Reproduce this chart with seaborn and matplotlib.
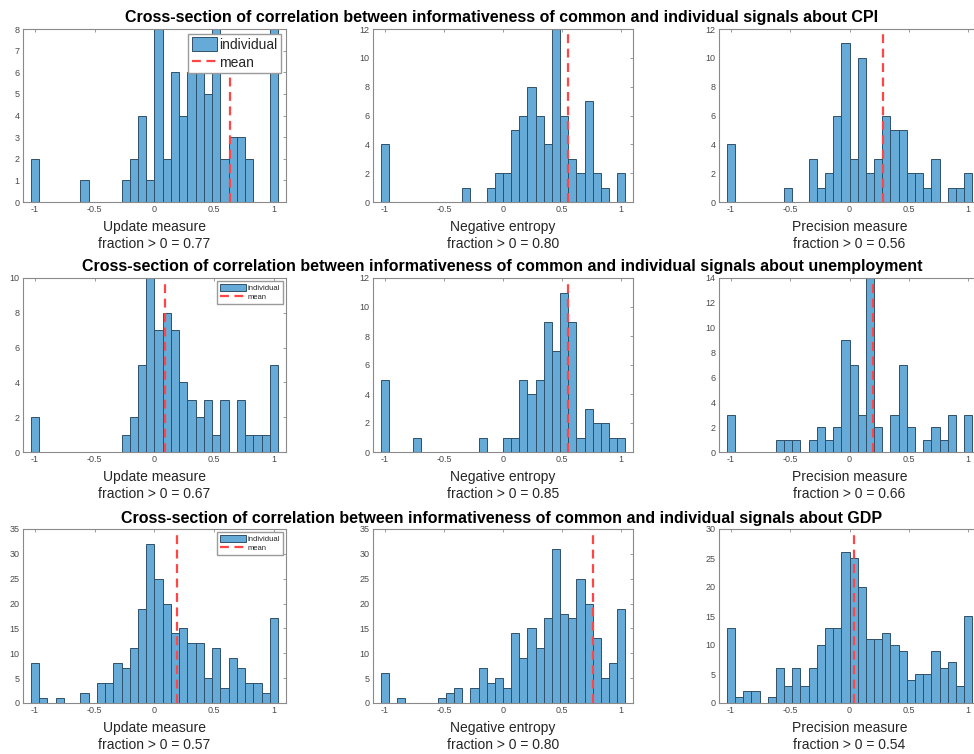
import numpy as np
import pandas as pd
import matplotlib
matplotlib.use("Agg")
import matplotlib.pyplot as plt
import seaborn as sns
from matplotlib.patches import Patch
from matplotlib.lines import Line2D

# ---------------- data (counts per bin, 30 bins spanning -1 .. 1) ----------------
variables = ["CPI", "unemployment", "GDP"]
measures = ["Update measure", "Negative entropy", "Precision measure"]

cpi_update = [2, 0, 0, 0, 0, 0, 1, 0, 0, 0, 0, 1, 2, 4, 1, 8, 2, 6, 4, 6, 6, 5, 8, 2, 3, 3, 2, 0, 0, 8]
cpi_entropy = [4, 0, 0, 0, 0, 0, 0, 0, 0, 0, 1, 0, 0, 1, 2, 2, 5, 6, 8, 6, 4, 12, 6, 3, 2, 7, 2, 1, 0, 2]
cpi_precision = [4, 0, 0, 0, 0, 0, 0, 1, 0, 0, 3, 1, 2, 6, 11, 3, 10, 2, 3, 6, 5, 5, 2, 2, 1, 3, 0, 1, 1, 2]

unemp_update = [2, 0, 0, 0, 0, 0, 0, 0, 0, 0, 0, 1, 2, 5, 10, 7, 8, 7, 4, 3, 2, 3, 1, 3, 0, 3, 1, 1, 1, 5]
unemp_entropy = [5, 0, 0, 0, 1, 0, 0, 0, 0, 0, 0, 0, 1, 0, 0, 1, 1, 5, 4, 5, 9, 7, 11, 9, 1, 3, 2, 2, 1, 1]
unemp_precision = [3, 0, 0, 0, 0, 0, 1, 1, 1, 0, 1, 2, 1, 2, 9, 7, 3, 14, 2, 0, 3, 7, 2, 0, 1, 2, 1, 3, 0, 3]

gdp_update = [8, 1, 0, 1, 0, 0, 2, 0, 4, 4, 8, 7, 11, 19, 32, 25, 20, 14, 15, 12, 12, 5, 11, 3, 9, 7, 4, 4, 2, 17]
gdp_entropy = [6, 0, 1, 0, 0, 0, 0, 1, 2, 3, 0, 3, 7, 4, 5, 3, 14, 9, 15, 11, 17, 31, 18, 17, 25, 20, 13, 5, 8, 19]
gdp_precision = [13, 1, 2, 2, 0, 1, 6, 3, 6, 3, 6, 10, 13, 13, 26, 25, 20, 11, 11, 12, 10, 9, 4, 5, 5, 9, 6, 7, 3, 15]

cpi_means = [0.634, 0.554, 0.28]
unemp_means = [0.087, 0.55, 0.2]
gdp_means = [0.19, 0.765, 0.034]

cpi_fraction = ["0.77", "0.80", "0.56"]
unemp_fraction = ["0.67", "0.85", "0.66"]
gdp_fraction = ["0.57", "0.80", "0.54"]

y_max = [[8, 12, 12], [10, 12, 14], [35, 35, 30]]
y_step = [[1, 2, 2], [2, 2, 2], [5, 5, 5]]

counts = [[cpi_update, cpi_entropy, cpi_precision],
          [unemp_update, unemp_entropy, unemp_precision],
          [gdp_update, gdp_entropy, gdp_precision]]
means = [cpi_means, unemp_means, gdp_means]
fractions = [cpi_fraction, unemp_fraction, gdp_fraction]

# bin geometry
n_bins = 30
centers = np.linspace(-1, 1, n_bins)
bin_w = centers[1] - centers[0]
bin_lo = centers[0] - bin_w / 2
bin_hi = centers[-1] + bin_w / 2

# ---------------- style ----------------
sns.set_theme(style="white")
plt.rcParams["font.family"] = ["Liberation Sans", "DejaVu Sans"]

W, H = 974, 754
fig = plt.figure(figsize=(W / 100, H / 100), dpi=100)

col_left = [23, 373, 719]
col_width = [263, 260, 261]
row_top = [29, 278, 529]
row_height = [173, 174, 174]
title_y = [17.5, 267, 518]

face = "#66AAD7"
edge = "#30506a"
mean_color = "#FF4545"
spine_color = "#8a8a8a"
text_color = "#262626"
tick_color = "#4a4a4a"

for r in range(3):
    fig.text(502 / W, 1 - title_y[r] / H,
             f"Cross-section of correlation between informativeness of common and individual signals about {variables[r]}",
             ha="center", va="center", fontsize=11.5, fontweight="bold", color="black")
    for c in range(3):
        left, w = col_left[c], col_width[c]
        top, h = row_top[r], row_height[r]
        ax = fig.add_axes([left / W, 1 - (top + h) / H, w / W, h / H])
        df = pd.DataFrame({"x": centers, "n": counts[r][c]})
        sns.histplot(data=df, x="x", weights="n", binwidth=bin_w,
                     binrange=(bin_lo, bin_hi), ax=ax,
                     color=face, alpha=1.0, edgecolor=edge, linewidth=0.7)
        ax.axvline(means[r][c], color=mean_color, ls=(0, (4, 2.5)), lw=1.6)
        ax.set_xlim(-1.1, 1.1)
        ax.set_ylim(0, y_max[r][c])
        ax.set_xticks([-1, -0.5, 0, 0.5, 1])
        ax.set_xticklabels(["-1", "-0.5", "0", "0.5", "1"])
        ax.set_yticks(np.arange(0, y_max[r][c] + 0.001, y_step[r][c]))
        ax.set_xlabel("")
        ax.set_ylabel("")
        ax.tick_params(axis="both", direction="in", length=2.5, width=0.6,
                       labelsize=6.5, labelcolor=tick_color, color=spine_color,
                       top=True, right=True, pad=2.5)
        for s in ax.spines.values():
            s.set_color(spine_color)
            s.set_linewidth(0.8)
            s.set_visible(True)
        cx = (left + w / 2) / W
        bottom = top + h
        fig.text(cx, 1 - (bottom + 25) / H, measures[c], ha="center", va="center",
                 fontsize=10, color=text_color)
        fig.text(cx, 1 - (bottom + 42) / H, f"fraction > 0 = {fractions[r][c]}",
                 ha="center", va="center", fontsize=10, color=text_color)
        if c == 0:
            handles = [Patch(facecolor=face, edgecolor=edge, linewidth=0.7),
                       Line2D([0], [0], color=mean_color, ls=(0, (4, 2.5)), lw=1.6)]
            if r == 0:
                ax.legend(handles, ["individual", "mean"], loc="upper right",
                          fontsize=10, frameon=True, fancybox=False,
                          edgecolor="#9a9a9a", framealpha=1, borderaxespad=0.35,
                          handlelength=1.8, handleheight=1.1, handletextpad=0.2,
                          borderpad=0.25, labelspacing=0.25)
            else:
                ax.legend(handles, ["individual", "mean"], loc="upper right",
                          fontsize=5.5, frameon=True, fancybox=False,
                          edgecolor="#9a9a9a", framealpha=1, borderaxespad=0.45,
                          handlelength=3.4, handleheight=1.0, handletextpad=0.3,
                          borderpad=0.3, labelspacing=0.2)

fig.savefig("out.png", dpi=100)
